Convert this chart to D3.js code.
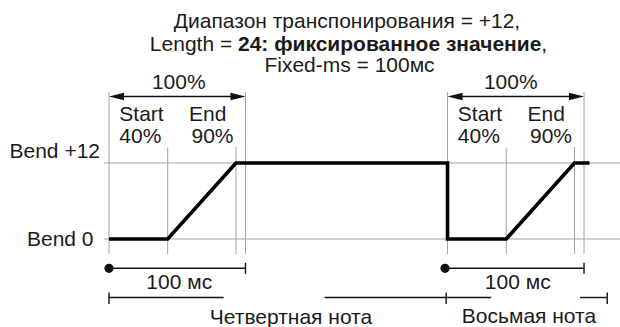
<!DOCTYPE html>
<html><head><meta charset="utf-8">
<script src="https://cdn.jsdelivr.net/npm/d3@7"></script>
<style>
body{margin:0;background:#fff}
text{font-family:"Liberation Sans",Arial,Helvetica,sans-serif;fill:#1a1a1a;font-size:20px}
</style>
</head><body><svg id="c" width="620" height="327"></svg>
<script>
// ---- data (time in ms-like units, bend in semitones) ----
const bendLevels = [0, 12];
const bendLabels = ["Bend 0", "Bend +12"];
const noteOns = [0, 248];          // note-on times of the two notes
const fixedMs = 100;               // Fixed-ms length
const startPos = 43;               // start point (≈40 %)
const endPos = 93;                 // end point (≈90 %)
const startLabel = ["Start", "40%"];
const endLabel = ["End", "90%"];
const pctLabel = "100%";
const msLabel = "100 мс";
const curveT    = [0, 43, 93, 248, 248, 291, 341, 352];
const curveBend = [0, 0, 12, 12, 0, 0, 12, 12];
const noteNames = ["Четвертная нота", "Восьмая нота"];
const noteLineSegs = [[[0, 84], [158, 248]], [[248, 280], [345, 365]]];
const noteTicks = [0, 247, 365];
const titleLine1 = "Диапазон транспонирования = +12,";
const titleLine2 = ["Length = ", "24: фиксированное значение", ","];
const titleLine3 = "Fixed-ms = 100мс";

// ---- layout ----
const svg = d3.select("#c");
const x = d3.scaleLinear().domain([0, 100]).range([109, 245.5]);
const y = d3.scaleLinear().domain([0, 12]).range([239, 163]);
const SX = 1.05;
const grid = "#a3a3a3";

function label(txt, px, py, anchor, weight) {
  const g = svg.append("g").attr("transform", `translate(${px},${py}) scale(${SX},1)`);
  const t = g.append("text").attr("text-anchor", anchor || "start").text(txt);
  if (weight) t.attr("font-weight", weight);
  return t;
}

// title
label(titleLine1, 347, 27.5, "middle");
{
  const g = svg.append("g").attr("transform", `translate(348.5,50.5) scale(${SX},1)`);
  const t = g.append("text").attr("text-anchor", "middle");
  t.append("tspan").text(titleLine2[0]);
  t.append("tspan").attr("font-weight", "bold").text(titleLine2[1]);
  t.append("tspan").text(titleLine2[2]);
}
label(titleLine3, 349.5, 71.5, "middle");

// horizontal grid lines
svg.selectAll("line.hg").data(bendLevels).enter().append("line")
  .attr("x1", 104).attr("x2", 620)
  .attr("y1", d => y(d)).attr("y2", d => y(d))
  .attr("stroke", grid).attr("stroke-width", 1);

// bend labels
label(bendLabels[1], 100, y(12) - 5.5, "end");
label(bendLabels[0], 93.5, y(0) + 7, "end");

// vertical guides
noteOns.forEach(n => {
  [[n, 92], [n + fixedMs, 92], [n + startPos, 147.5], [n + endPos, 147]].forEach(([t, top]) => {
    svg.append("line").attr("x1", x(t)).attr("x2", x(t))
      .attr("y1", top).attr("y2", 254)
      .attr("stroke", grid).attr("stroke-width", 1);
  });
  // 100% double arrow
  const a = x(n), b = x(n + fixedMs), ay = 96.5;
  svg.append("line").attr("x1", a + 8).attr("x2", b - 8).attr("y1", ay).attr("y2", ay)
    .attr("stroke", "#111").attr("stroke-width", 1.4);
  svg.append("path").attr("d", `M${a},${ay} L${a + 15},${ay - 3.8} L${a + 15},${ay + 3.8}Z`).attr("fill", "#111");
  svg.append("path").attr("d", `M${b},${ay} L${b - 15},${ay - 3.8} L${b - 15},${ay + 3.8}Z`).attr("fill", "#111");
  // 100 ms marker
  const my = 268.3;
  svg.append("line").attr("x1", a).attr("x2", b).attr("y1", my).attr("y2", my)
    .attr("stroke", "#111").attr("stroke-width", 1.4);
  svg.append("line").attr("x1", b).attr("x2", b).attr("y1", my - 5.5).attr("y2", my + 5.5)
    .attr("stroke", "#111").attr("stroke-width", 1.4);
  svg.append("circle").attr("cx", a - (n ? 2.5 : 0)).attr("cy", my).attr("r", 4.6).attr("fill", "#111");
});

// percentage / start / end labels
noteOns.forEach((n, i) => {
  const off = i ? -5 : 1.5;
  label(pctLabel, (x(n) + x(n + fixedMs)) / 2 + off, 88.5, "middle");
  label(startLabel[0], x(n) + 10.3, 120.7);
  label(startLabel[1], x(n) + 10.3, 143.3);
  label(endLabel[0], x(n) + 80, 120.7);
  label(endLabel[1], x(n) + 82.5, 143.3);
  label(msLabel, (x(n) + x(n + fixedMs)) / 2 + 2, 289.3, "middle");
});

// bend curve
const line = d3.line().x((d, i) => x(curveT[i])).y((d, i) => y(curveBend[i]));
svg.append("path").attr("d", line(curveT)).attr("fill", "none")
  .attr("stroke", "#000").attr("stroke-width", 3.6).attr("stroke-linejoin", "miter");

// note length lines
const ny = 297.5;
noteLineSegs.forEach(segs => segs.forEach(([s, e]) => {
  svg.append("line").attr("x1", x(s)).attr("x2", x(e)).attr("y1", ny).attr("y2", ny)
    .attr("stroke", "#111").attr("stroke-width", 1.4);
}));
noteTicks.forEach(t => {
  svg.append("line").attr("x1", x(t)).attr("x2", x(t))
    .attr("y1", ny - 5).attr("y2", ny + 6.5).attr("stroke", "#111").attr("stroke-width", 1.4);
});
label(noteNames[0], 291, 323.5, "middle");
label(noteNames[1], 529, 323.3, "middle");
</script></body></html>
